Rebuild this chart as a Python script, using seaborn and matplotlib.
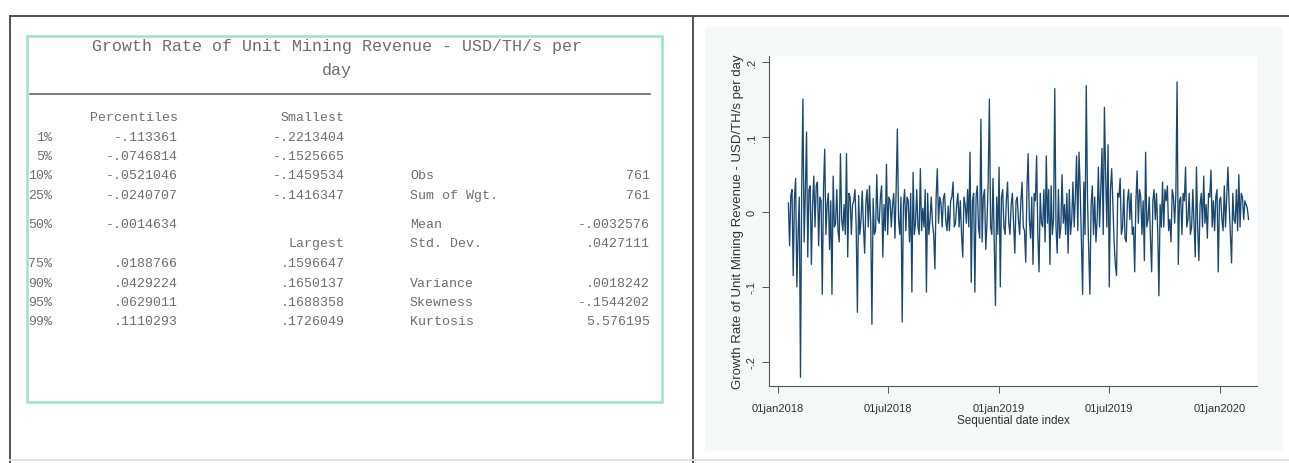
import numpy as np
import pandas as pd
import matplotlib
matplotlib.use('Agg')
import matplotlib.pyplot as plt
from matplotlib.lines import Line2D
from matplotlib.patches import Rectangle
import seaborn as sns

# 表格数据（Stata summarize, detail 输出）
table_title = ['Growth Rate of Unit Mining Revenue - USD/TH/s per', 'day']
pct_labels = ['1%', '5%', '10%', '25%', '50%', '75%', '90%', '95%', '99%']
pct_values = ['-.113361', '-.0746814', '-.0521046', '-.0240707', '-.0014634',
              '.0188766', '.0429224', '.0629011', '.1110293']
smallest = ['-.2213404', '-.1525665', '-.1459534', '-.1416347']
largest = ['.1596647', '.1650137', '.1688358', '.1726049']
stat_names = ['Obs', 'Sum of Wgt.', 'Mean', 'Std. Dev.', 'Variance', 'Skewness', 'Kurtosis']
stat_values = ['761', '761', '-.0032576', '.0427111', '.0018242', '-.1544202', '5.576195']

# 时间序列（从图上估读，每2天一个点）
start_date = '2018-01-18'
growth = [
    0.012, -0.045, 0.022, 0.030, -0.085, 0.018, 0.045, -0.100, -0.030,
    0.020, -0.221, 0.030, 0.151, -0.040, 0.025, 0.107, -0.060, 0.030,
    0.035, -0.070, 0.010, 0.048, -0.020, 0.035, 0.040, -0.045, 0.020,
    0.015, -0.110, 0.030, 0.084, -0.030, 0.010, 0.025, -0.050, 0.015,
    -0.110, 0.048, -0.020, -0.015, 0.030, -0.025, -0.040, 0.078, -0.010,
    -0.025, 0.010, -0.030, 0.078, -0.060, 0.025, 0.020, -0.030, 0.010,
    0.015, 0.030, -0.020, -0.134, 0.022, -0.030, -0.010, 0.028, -0.020,
    -0.055, 0.012, 0.030, -0.020, 0.035, -0.015, -0.150, 0.018, -0.030,
    -0.025, 0.050, -0.010, -0.015, 0.020, 0.035, -0.060, 0.010, -0.025,
    0.064, -0.030, 0.020, 0.015, -0.020, 0.010, 0.025, -0.035, 0.030,
    0.111, -0.010, -0.030, 0.020, -0.147, 0.010, 0.030, -0.025, 0.020,
    0.015, -0.040, 0.025, -0.107, 0.053, -0.030, -0.015, 0.030, -0.020,
    -0.030, 0.058, -0.025, 0.005, -0.020, 0.030, -0.107, 0.025, -0.030,
    -0.010, 0.020, -0.015, -0.030, -0.076, 0.020, 0.058, -0.015, 0.020,
    0.012, -0.020, 0.018, 0.025, -0.012, -0.025, 0.008, -0.025, 0.015,
    0.020, 0.040, -0.020, -0.015, 0.010, 0.025, -0.020, 0.015, -0.030,
    -0.060, 0.020, 0.010, -0.015, 0.030, -0.020, 0.080, -0.094, 0.015,
    0.025, -0.107, 0.020, 0.035, -0.020, -0.035, 0.124, -0.040, 0.020,
    0.030, -0.050, -0.015, 0.040, 0.151, -0.020, -0.030, 0.045, -0.040,
    -0.125, 0.020, -0.030, 0.060, -0.100, 0.020, 0.030, -0.020, -0.030,
    0.015, 0.040, -0.015, -0.030, 0.010, 0.025, -0.015, -0.055, 0.015,
    0.020, -0.010, -0.030, 0.015, 0.040, -0.020, -0.025, -0.067, 0.030,
    0.078, -0.010, -0.035, 0.020, -0.070, 0.025, 0.015, 0.075, -0.030,
    -0.080, 0.025, -0.015, -0.020, 0.030, -0.040, 0.075, -0.015, 0.030,
    -0.070, 0.035, -0.030, -0.010, 0.165, -0.020, -0.055, 0.030, -0.035,
    -0.020, 0.050, -0.015, 0.010, -0.030, 0.025, -0.055, 0.030, -0.030,
    -0.010, 0.040, -0.020, 0.020, 0.075, -0.025, 0.080, 0.030, -0.040,
    -0.110, 0.040, -0.030, 0.169, 0.020, -0.050, -0.110, 0.010, 0.035,
    -0.030, 0.020, -0.040, -0.010, 0.060, -0.020, 0.030, 0.085, -0.030,
    0.140, 0.050, -0.020, 0.090, -0.100, 0.030, 0.058, 0.010, -0.040,
    -0.070, -0.085, 0.025, 0.020, 0.045, -0.030, -0.020, 0.030, -0.035,
    -0.040, 0.015, 0.030, -0.010, 0.025, -0.030, -0.020, -0.080, 0.015,
    0.055, -0.015, 0.030, 0.020, -0.030, 0.015, -0.065, 0.080, -0.020,
    -0.010, 0.020, -0.035, -0.080, 0.015, 0.030, -0.010, 0.025, -0.025,
    -0.112, 0.010, -0.020, 0.040, -0.020, 0.030, 0.015, 0.035, -0.025,
    -0.010, -0.040, 0.030, 0.020, -0.015, 0.025, 0.174, -0.070, 0.015,
    0.020, -0.030, 0.025, 0.015, 0.060, -0.020, -0.010, 0.025, -0.030,
    -0.020, 0.030, -0.015, -0.060, 0.060, -0.020, -0.065, 0.010, 0.025,
    -0.020, 0.048, -0.015, 0.010, -0.035, 0.025, 0.020, 0.056, -0.020,
    0.015, -0.025, 0.020, 0.030, -0.080, 0.015, 0.020, -0.010, -0.025,
    0.035, -0.020, 0.020, 0.060, 0.010, -0.030, -0.068, 0.025, -0.010,
    -0.015, 0.030, -0.025, 0.050, -0.020, 0.025, 0.020, -0.010, 0.015,
    0.010, 0.005, -0.010,
]
x_ticks = ['2018-01-01', '2018-07-01', '2019-01-01', '2019-07-01', '2020-01-01']
x_tick_labels = ['01jan2018', '01jul2018', '01jan2019', '01jul2019', '01jan2020']
y_ticks = [-0.2, -0.1, 0, 0.1, 0.2]
y_tick_labels = ['-.2', '-.1', '0', '.1', '.2']

df = pd.DataFrame({
    'date': pd.date_range(start_date, periods=len(growth), freq='2D'),
    'growth': growth,
})

W, H = 1289, 464
fig = plt.figure(figsize=(W / 100, H / 100), dpi=100)
fig.patch.set_facecolor('white')


def fx(x):
    return x / W


def fy(y):
    return 1 - y / H


# 外框（文档表格线）
for xs, ys, c in [([10, 1289], [17, 17], '#444444'),
                  ([10, 10], [17, 464], '#444444'),
                  ([693, 693], [17, 464], '#444444'),
                  ([10, 1289], [461, 461], '#e2e2e2')]:
    fig.add_artist(Line2D([fx(v) for v in xs], [fy(v) for v in ys], color=c, lw=1.3))

# 左侧：统计表
fig.add_artist(Rectangle((fx(27), fy(403)), fx(662) - fx(27), fy(37) - fy(403),
                         fill=False, ec='#9be3d3', lw=1.8, transform=fig.transFigure))
mono = dict(family='Liberation Mono', color='#6e6e6e')
fig.text(fx(337), fy(47), table_title[0], ha='center', va='center', fontsize=12, **mono)
fig.text(fx(337), fy(70), table_title[1], ha='center', va='center', fontsize=12, **mono)
fig.add_artist(Line2D([fx(30), fx(650)], [fy(95), fy(95)], color='#666666', lw=1.2))

fs = 9.5
fig.text(fx(178), fy(118), 'Percentiles', ha='right', va='center', fontsize=fs, **mono)
fig.text(fx(345), fy(118), 'Smallest', ha='right', va='center', fontsize=fs, **mono)
fig.text(fx(345), fy(244), 'Largest', ha='right', va='center', fontsize=fs, **mono)
row_y = [138, 157, 176, 196, 225, 264, 284, 303, 322]
for y, lab, val in zip(row_y, pct_labels, pct_values):
    fig.text(fx(52), fy(y), lab, ha='right', va='center', fontsize=fs, **mono)
    fig.text(fx(178), fy(y), val, ha='right', va='center', fontsize=fs, **mono)
for y, val in zip(row_y[:4], smallest):
    fig.text(fx(345), fy(y), val, ha='right', va='center', fontsize=fs, **mono)
for y, val in zip(row_y[5:], largest):
    fig.text(fx(345), fy(y), val, ha='right', va='center', fontsize=fs, **mono)
stat_y = [176, 196, 225, 244, 284, 303, 322]
for y, name, val in zip(stat_y, stat_names, stat_values):
    fig.text(fx(410), fy(y), name, ha='left', va='center', fontsize=fs, **mono)
    fig.text(fx(650), fy(y), val, ha='right', va='center', fontsize=fs, **mono)

# 右侧：时间序列图
fig.add_artist(Rectangle((fx(705), fy(452)), fx(1283) - fx(705), fy(28) - fy(452),
                         fc='#f6f9f9', ec='none', transform=fig.transFigure, zorder=0))
ax = fig.add_axes([fx(769), fy(387), fx(1257) - fx(769), fy(57) - fy(387)])
ax.set_facecolor('white')
sns.lineplot(data=df, x='date', y='growth', ax=ax, color='#1a476f', linewidth=0.95)

ax.set_ylim(-0.2326, 0.2086)
ax.set_xlim(pd.Timestamp('2017-12-17'), pd.Timestamp('2020-03-02'))
ax.set_yticks(y_ticks)
ax.set_yticklabels(y_tick_labels, rotation=90, va='center', fontsize=8,
                   family='Liberation Sans', color='#333333')
ax.set_xticks(pd.to_datetime(x_ticks))
ax.set_xticklabels(x_tick_labels, fontsize=8, family='Liberation Sans', color='#333333')
ax.tick_params(axis='both', length=5, width=0.7, color='#555555', pad=4)
ax.tick_params(axis='x', pad=7)
for side in ['top', 'right']:
    ax.spines[side].set_visible(False)
for side in ['left', 'bottom']:
    ax.spines[side].set_color('#555555')
    ax.spines[side].set_linewidth(0.8)
ax.set_xlabel('Sequential date index', fontsize=8.5, family='Liberation Sans',
              color='#333333', labelpad=1)
ax.set_ylabel('Growth Rate of Unit Mining Revenue - USD/TH/s per day', fontsize=9.5,
              family='Liberation Sans', color='#333333', labelpad=2)

fig.savefig('out.png', dpi=100)
